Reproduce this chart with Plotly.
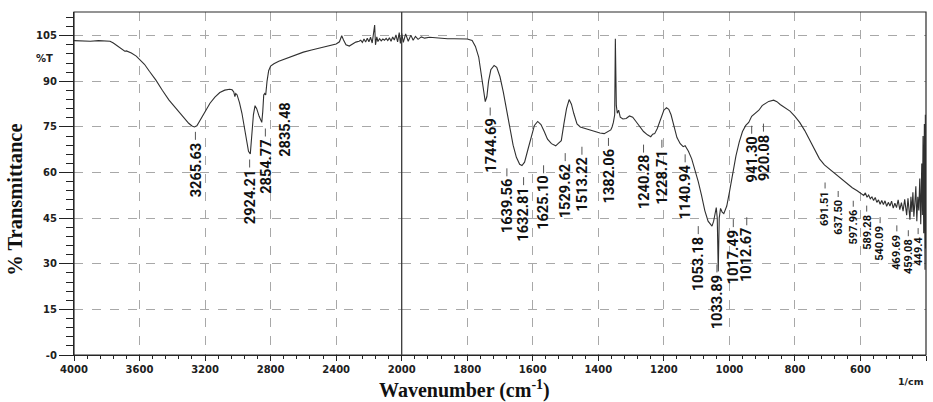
import plotly.graph_objects as go

# ---- FTIR spectrum (wavenumber in cm-1, transmittance in %T) ----
wavenumber = [
    4000, 3950, 3900, 3850, 3800, 3780, 3760, 3740, 3720, 3700, 3690, 3680, 3665, 3650,
    3620, 3600, 3570, 3540, 3500, 3460, 3420, 3380, 3340, 3300, 3280, 3265, 3250, 3230,
    3200, 3170, 3140, 3110, 3080, 3050, 3035, 3025, 3018, 3013, 3005, 2990, 2975, 2960,
    2945, 2935, 2924, 2915, 2905, 2895, 2885, 2870, 2854, 2848, 2842, 2836, 2830, 2822,
    2812, 2800, 2780, 2750, 2700, 2650, 2600, 2550, 2500, 2450, 2400, 2380, 2366, 2355,
    2340, 2320, 2300, 2280, 2260, 2250, 2240, 2230, 2220, 2210, 2200, 2190, 2180, 2172,
    2165, 2160, 2152, 2145, 2135, 2125, 2115, 2105, 2095, 2085, 2075, 2065, 2055, 2045,
    2035, 2025, 2015, 2008, 2000,
    1995, 1988, 1980, 1972, 1965, 1958, 1950, 1940, 1930, 1915, 1900, 1880, 1860, 1840,
    1820, 1800, 1785, 1775, 1765, 1757, 1750, 1745, 1740, 1735, 1728, 1718, 1710, 1700,
    1690, 1680, 1670, 1660, 1650, 1640, 1633, 1625, 1615, 1605, 1595, 1585, 1575, 1565,
    1555, 1543, 1530, 1522, 1513, 1505, 1497, 1489, 1482, 1475, 1465, 1455, 1440, 1425,
    1410, 1395, 1382, 1372, 1362, 1358, 1354, 1350, 1348, 1345, 1342, 1338, 1333, 1325,
    1315, 1305, 1295, 1285, 1275, 1262, 1250, 1240, 1234, 1228, 1220, 1210, 1200, 1192,
    1185, 1178, 1170, 1160, 1150, 1141, 1135, 1125, 1115, 1105, 1095, 1085, 1075, 1065,
    1058, 1053, 1048, 1043, 1040, 1037, 1034, 1031, 1027, 1022, 1017, 1013, 1008, 1000,
    990, 980, 970, 960, 950, 941, 932, 925, 920, 910, 900, 890, 880, 865, 855, 845, 830,
    815, 800, 785, 770, 755, 740, 725, 710, 700, 692, 680, 665, 650, 638, 625, 610, 598,
    590, 585, 580, 575, 570, 565, 560, 555, 550, 545, 540, 535, 530, 525, 520, 515, 510,
    505, 500, 495, 490, 485, 480, 475, 470, 465, 462, 459, 455, 452, 449, 446, 443, 440,
    437, 434, 431, 428, 425, 422, 419, 416, 413, 411, 409, 407, 405, 403, 402, 401, 400,
]
transmittance = [
    103.4, 103.3, 103.2, 103.4, 103.4, 103.2, 102.6, 101.8, 101.0, 100.2, 99.9, 100.0, 99.7, 99.3,
    98.3, 97.3, 95.6, 93.3, 90.4, 87.0, 83.8, 81.3, 78.6, 76.2, 75.3, 75.0, 75.4, 77.3,
    80.4, 82.8, 84.8, 86.3, 87.1, 87.4, 87.2, 86.5, 85.0, 86.0, 85.6, 83.0, 79.5, 74.5,
    69.0, 67.0, 66.1, 73.0, 79.0, 82.0, 81.0, 78.5, 76.5, 80.0, 85.5, 86.0, 85.5, 90.0,
    93.5, 95.0, 95.8, 96.6, 97.6, 98.7, 99.6, 100.3, 100.9, 101.6, 102.3, 103.0, 105.0, 103.6,
    102.0, 101.6, 102.2, 102.9, 103.2, 103.5, 102.8, 103.9, 102.9, 104.2, 103.0, 104.5, 102.6, 105.5,
    108.5, 102.0, 104.6, 103.1, 104.0, 103.3, 103.9, 103.5, 104.1, 103.4, 104.3, 103.2, 104.6, 103.6,
    105.3, 103.0, 106.0, 102.5, 105.8,
    102.8, 105.6, 103.2, 105.2, 103.5, 104.8, 103.8, 104.6, 104.2, 104.5, 104.3, 104.2, 104.0, 104.0,
    104.0, 103.9, 103.4, 101.5, 98.0, 92.0, 86.0, 83.3, 85.0, 90.0, 93.8, 95.2, 94.6, 91.5,
    86.5, 80.5, 74.5, 69.0, 65.0, 62.7, 62.3, 63.4, 67.5, 72.0, 75.5, 76.8, 75.8, 73.5,
    71.0, 69.5, 68.8, 69.6, 70.5, 76.0, 81.0, 84.0, 82.5, 79.5, 76.0, 75.0, 74.5, 74.0,
    73.3, 73.0, 72.8, 73.5, 74.0, 75.0, 76.5, 79.0, 104.0, 82.0, 79.5, 80.5, 78.2, 77.6,
    77.8, 78.6, 78.2, 76.8, 75.2, 73.5, 72.4, 71.8, 72.6, 72.8, 74.5, 77.8, 80.5, 81.3,
    80.8, 79.0, 75.5, 71.5, 69.5, 68.5, 68.8, 67.0, 64.5, 61.0, 57.0, 52.5, 47.5, 44.0,
    42.8, 42.4, 44.0, 47.5, 48.5, 45.0, 27.5, 45.0, 48.2, 47.0, 46.5, 47.6, 49.0, 53.5,
    60.0, 65.5, 70.0, 73.5, 75.5, 76.5, 78.5, 79.2, 79.4, 80.5, 82.0, 82.8, 83.4, 83.8, 83.3, 82.4, 81.4,
    80.2, 78.5, 76.4, 73.8, 70.6, 67.8, 64.5, 62.5, 61.6, 61.0, 59.8, 58.4, 57.2, 56.2, 55.0, 54.0, 53.1,
    52.5, 53.3, 51.9, 52.6, 51.4, 52.0, 50.8, 51.8, 50.2, 51.0, 49.6, 50.8, 49.5, 50.7, 48.9, 50.2, 49.0,
    50.6, 48.3, 49.9, 48.5, 51.0, 47.8, 50.1, 47.3, 51.2, 48.0, 46.0, 51.5, 47.5, 44.5, 52.0, 47.0, 53.5,
    45.5, 50.0, 55.5, 44.0, 52.0, 47.5, 58.0, 43.0, 63.0, 46.0, 72.0, 40.0, 76.0, 28.0, 79.0, 35.0, 45.0,
]

# ---- peak picks ----
peak_labels = [
    "3265.63", "2924.21", "2854.77", "2835.48", "1744.69", "1639.56", "1632.81",
    "1625.10", "1529.62", "1513.22", "1382.06", "1240.28", "1228.71", "1140.94",
    "1053.18", "1033.89", "1017.49", "1012.67", "941.30", "920.08",
    "691.51", "637.50", "597.96", "589.28", "540.09", "469.69", "459.08", "449.4",
]
peak_wavenumbers = [3265.63, 2924.21, 2854.77, 2835.48, 1744.69, 1639.56, 1632.81,
                    1625.10, 1529.62, 1513.22, 1382.06, 1240.28, 1228.71, 1140.94,
                    1053.18, 1033.89, 1017.49, 1012.67, 941.30, 920.08,
                    691.51, 637.50, 597.96, 589.28, 540.09, 469.69, 459.08, 449.4]

# label placement: x (cm-1) of each rotated label and %T of its upper end
label_x = [3259, 2928, 2832, 2710, 1730, 1679, 1628, 1567, 1501, 1450, 1369, 1262, 1206,
           1135, 1095, 1038, 988, 947, 932, 896, 708, 668, 622, 581, 540, 489, 454, 424]
label_top = [70.1, 61.0, 71.2, 83.4, 78.1, 58.1, 55.2, 59.1, 63.1, 65.2, 68.1, 65.9, 67.5,
             62.7, 39.1, 26.5, 41.4, 42.0, 72.1, 72.8, 54.1, 51.3, 48.1, 46.5, 42.7, 40.0,
             38.4, 39.1]
small_label_from = 20          # labels from this index on use the small font
no_leader = {"2835.48"}

y_tickvals = [0, 15, 30, 45, 60, 75, 90, 105]
y_ticktext = ["-0", "15", "30", "45", "60", "75", "90", "105"]
x_hi_ticks = [4000, 3600, 3200, 2800, 2400]
x_lo_ticks = [2000, 1800, 1600, 1400, 1200, 1000, 800, 600, 400]

LINE = "#303030"
GRID = "#a8a8a8"
TICKFONT = dict(family="DejaVu Sans", size=10, color="#202020", weight="bold")
LABELFONT = "Roboto, Liberation Sans, sans-serif"
SERIF = "Liberation Serif, Times New Roman, DejaVu Serif, serif"

hi_w = [w for w in wavenumber if w >= 2000]
hi_t = [t for w, t in zip(wavenumber, transmittance) if w >= 2000]
lo_w = [w for w in wavenumber if w <= 2000]
lo_t = [t for w, t in zip(wavenumber, transmittance) if w <= 2000]

fig = go.Figure()
fig.add_trace(go.Scatter(x=hi_w, y=hi_t, mode="lines", xaxis="x", yaxis="y",
                         line=dict(color=LINE, width=1.1), showlegend=False))
fig.add_trace(go.Scatter(x=lo_w, y=lo_t, mode="lines", xaxis="x2", yaxis="y",
                         line=dict(color=LINE, width=1.1), showlegend=False))

common_x = dict(showline=True, linecolor="#222", linewidth=1.2, ticks="outside",
                ticklen=5, tickwidth=1.2, tickcolor="#222", tickfont=TICKFONT,
                showgrid=True, gridcolor=GRID, griddash="dash", gridwidth=1,
                zeroline=False, anchor="y")
fig.update_layout(
    xaxis=dict(domain=[0, 5 / 13], range=[4000, 2000], tickvals=x_hi_ticks,
               minor=dict(dtick=80, tick0=4000, ticks="outside", ticklen=3,
                          tickcolor="#222", showgrid=False),
               **common_x),
    xaxis2=dict(domain=[5 / 13, 1], range=[2000, 400], tickvals=x_lo_ticks,
                minor=dict(dtick=40, tick0=2000, ticks="outside", ticklen=3,
                           tickcolor="#222", showgrid=False),
                **common_x),
    yaxis=dict(range=[0, 112.8], tickvals=y_tickvals, ticktext=y_ticktext,
               showline=True, linecolor="#222", linewidth=1.2, ticks="outside",
               ticklen=14, tickwidth=1.2, tickcolor="#222", tickfont=TICKFONT,
               minor=dict(dtick=3, tick0=0, ticks="outside", ticklen=7,
                          tickcolor="#222", showgrid=False),
               showgrid=True, gridcolor=GRID, griddash="dash", gridwidth=1,
               zeroline=False, anchor="x"),
    width=933, height=402,
    margin=dict(l=74, r=7, t=12, b=47),
    paper_bgcolor="white", plot_bgcolor="white",
    showlegend=False,
)

shapes = [
    # plot frame
    dict(type="rect", xref="paper", yref="paper", x0=0, x1=1, y0=0, y1=1,
         line=dict(color="#2a2a2a", width=1.2)),
    # scale break at 2000 cm-1
    dict(type="line", xref="paper", yref="paper", x0=5 / 13, x1=5 / 13, y0=0, y1=1,
         line=dict(color="#3a3a3a", width=1.3)),
]
annotations = []
for i, (txt, lx, lt) in enumerate(zip(peak_labels, label_x, label_top)):
    xr = "x" if lx >= 2000 else "x2"
    small = i >= small_label_from
    annotations.append(dict(
        text=txt, x=lx, y=lt, xref=xr, yref="y", textangle=-90,
        xanchor="center", yanchor="top", showarrow=False, borderpad=0,
        font=dict(family=LABELFONT, size=11 if small else 14.6, color="#111",
                  weight="bold"),
    ))
    if txt not in no_leader:
        shapes.append(dict(type="line", xref=xr, yref="y", ysizemode="pixel",
                           yanchor=lt, x0=lx, x1=lx, y0=2, y1=8 if small else 10,
                           line=dict(color="#555", width=1)))

annotations += [
    dict(text="%T", x=-0.022, y=97.5, xref="paper", yref="y", xanchor="right",
         yanchor="middle", showarrow=False, font=TICKFONT),
    dict(text="1/cm", x=0.982, y=-0.077, xref="paper", yref="paper", xanchor="center",
         yanchor="middle", showarrow=False, font=dict(family="DejaVu Sans", size=9.5,
                                                      color="#202020", weight="bold")),
    dict(text="Wavenumber (cm<sup>-1</sup>)", x=0.458, y=-0.1, xref="paper", yref="paper",
         xanchor="center", yanchor="middle", showarrow=False,
         font=dict(family=SERIF, size=20, color="#111", weight="bold")),
    dict(text="% Transmittance", x=-0.0686, y=0.451, xref="paper", yref="paper",
         textangle=-90, xanchor="center", yanchor="middle", showarrow=False,
         font=dict(family=SERIF, size=20.5, color="#111", weight="bold")),
]
fig.update_layout(shapes=shapes, annotations=annotations)

fig.write_html("out.html")
